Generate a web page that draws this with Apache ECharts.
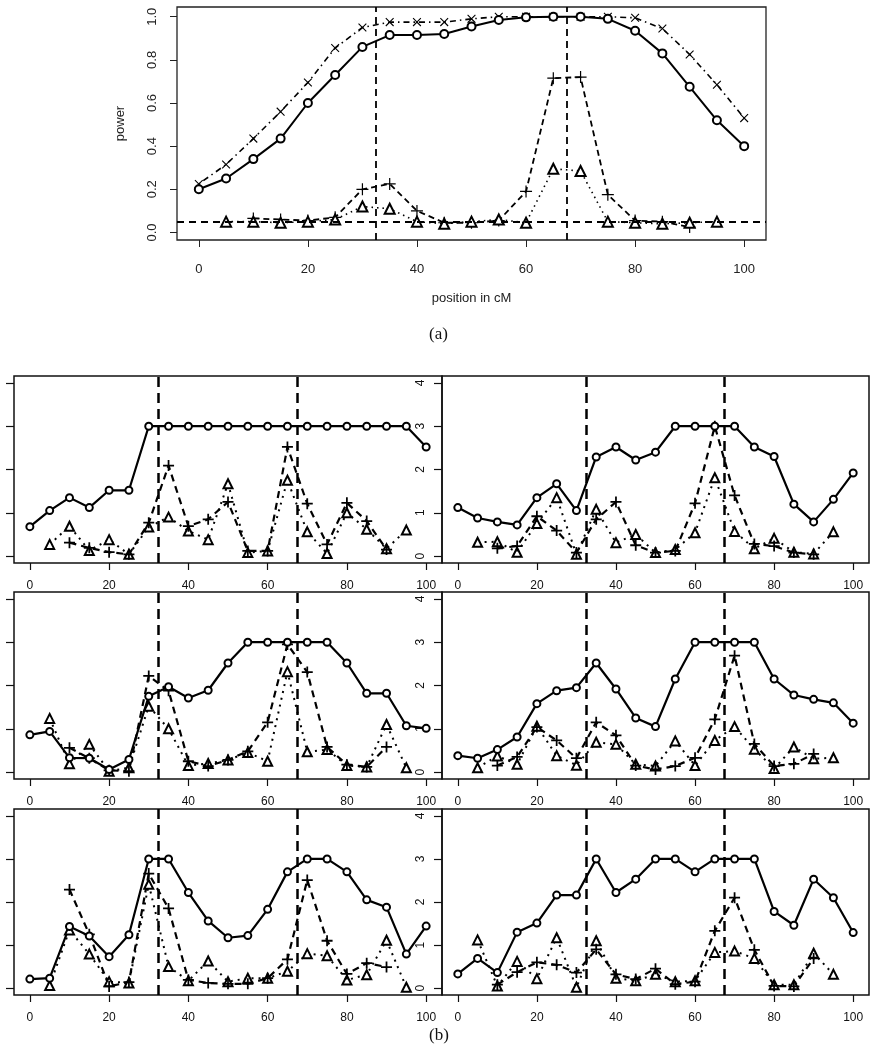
<!DOCTYPE html>
<html>
<head>
<meta charset="utf-8">
<script src="https://cdn.jsdelivr.net/npm/echarts@6/dist/echarts.min.js"></script>
<style>
html,body{margin:0;padding:0;background:#fff;}
#chart{width:879px;height:1050px;}
</style>
</head>
<body>
<div id="chart"></div>
<script>
// ---------- data ----------
const positions = [0,5,10,15,20,25,30,35,40,45,50,55,60,65,70,75,80,85,90,95,100];
const xTicks = [0,20,40,60,80,100];
const topYTicks = [0,0.2,0.4,0.6,0.8,1.0];
const panelYTicks = [0,1,2,3,4];
const qtlPositions = [32.5, 67.5];
const nullLevel = [0.05];

// (a) power curves
const topCircle = [0.20,0.25,0.34,0.435,0.60,0.73,0.86,0.915,0.915,0.92,0.955,0.985,0.997,1.0,1.0,0.99,0.935,0.83,0.675,0.52,0.40];
const topCross  = [0.225,0.315,0.435,0.56,0.695,0.855,0.95,0.975,0.975,0.975,0.99,1.0,1.0,1.0,1.0,1.0,0.995,0.945,0.825,0.685,0.53];
const topPlus   = [null,null,0.065,0.06,0.055,0.07,0.20,0.225,0.10,0.045,0.045,0.055,0.19,0.715,0.72,0.175,0.055,0.05,0.025,null,null];
const topTri    = [null,0.05,0.05,0.045,0.05,0.06,0.12,0.11,0.05,0.04,0.05,0.06,0.045,0.295,0.285,0.05,0.045,0.04,0.045,0.05,null];

// (b) six panels
const p1Circle = [0.68,1.05,1.35,1.12,1.52,1.52,3,3,3,3,3,3,3,3,3,3,3,3,3,3,2.52];
const p1Plus   = [null,null,0.31,0.19,0.09,0.04,0.77,2.09,0.69,0.85,1.25,0.12,0.12,2.52,1.21,0.27,1.23,0.81,0.15,null,null];
const p1Tri    = [null,0.27,0.69,0.13,0.38,0.04,0.67,0.90,0.58,0.38,1.67,0.08,0.12,1.75,0.56,0.06,1.0,0.62,0.17,0.60,null];

const p2Circle = [1.12,0.88,0.79,0.72,1.35,1.67,1.05,2.29,2.52,2.22,2.40,3,3,3,3,2.52,2.30,1.20,0.79,1.31,1.92];
const p2Plus   = [null,null,0.18,0.23,0.92,0.59,0.08,0.85,1.25,0.25,0.08,0.12,1.22,3.0,1.40,0.28,0.23,0.08,0.04,null,null];
const p2Tri    = [null,0.32,0.33,0.09,0.75,1.35,0.04,1.08,0.31,0.50,0.08,0.15,0.54,1.81,0.57,0.17,0.41,0.09,0.05,0.56,null];

const p3Circle = [0.86,0.94,0.33,0.32,0.06,0.29,1.75,1.97,1.71,1.89,2.52,3,3,3,3,3,2.52,1.82,1.82,1.07,1.01];
const p3Plus   = [null,null,0.56,0.32,0.04,0.02,2.22,1.88,0.25,0.14,0.28,0.48,1.15,2.95,2.31,0.58,0.17,0.12,0.58,null,null];
const p3Tri    = [null,1.24,0.19,0.64,0.02,0.10,1.52,1.0,0.15,0.20,0.28,0.45,0.25,2.32,0.47,0.52,0.15,0.12,1.10,0.10,null];

const p4Circle = [0.38,0.32,0.52,0.81,1.58,1.88,1.95,2.52,1.92,1.25,1.05,2.15,3,3,3,3,2.15,1.78,1.68,1.60,1.13];
const p4Plus   = [null,null,0.15,0.35,1.04,0.73,0.32,1.15,0.85,0.15,0.06,0.14,0.33,1.22,2.69,0.65,0.14,0.19,0.42,null,null];
const p4Tri    = [null,0.10,0.37,0.18,1.06,0.38,0.16,0.69,0.64,0.18,0.14,0.72,0.15,0.73,1.05,0.53,0.08,0.58,0.31,0.33,null];

const p5Circle = [0.21,0.23,1.43,1.21,0.73,1.24,3,3,2.22,1.56,1.17,1.22,1.83,2.70,3,3,2.70,2.05,1.88,0.79,1.44];
const p5Plus   = [null,null,2.29,1.25,0.04,0.14,2.66,1.85,0.19,0.12,0.10,0.10,0.23,0.67,2.51,1.10,0.33,0.58,0.49,null,null];
const p5Tri    = [null,0.06,1.35,0.79,0.15,0.12,2.41,0.50,0.17,0.63,0.15,0.23,0.23,0.39,0.80,0.75,0.19,0.31,1.11,0.02,null];

const p6Circle = [0.33,0.69,0.36,1.30,1.51,2.16,2.16,3,2.22,2.53,3,3,2.70,3,3,3,1.78,1.46,2.53,2.10,1.29];
const p6Plus   = [null,null,0.08,0.37,0.60,0.54,0.36,0.90,0.32,0.21,0.45,0.09,0.15,1.33,2.10,0.89,0.05,0.04,0.69,null,null];
const p6Tri    = [null,1.12,0.05,0.62,0.22,1.17,0.02,1.10,0.23,0.17,0.32,0.15,0.17,0.83,0.86,0.69,0.08,0.08,0.81,0.32,null];

const panels = [
  {c:p1Circle, p:p1Plus, t:p1Tri},
  {c:p2Circle, p:p2Plus, t:p2Tri},
  {c:p3Circle, p:p3Plus, t:p3Tri},
  {c:p4Circle, p:p4Plus, t:p4Tri},
  {c:p5Circle, p:p5Plus, t:p5Tri},
  {c:p6Circle, p:p6Plus, t:p6Tri}
];

// ---------- helpers ----------
function pts(arr){ return positions.map((x,i)=>[x,arr[i]]).filter(p=>p[1]!=null); }
const FONT = '"Liberation Sans", Arial, Helvetica, sans-serif';
const PLUS_THIN = 'path://M4.5,0H5.5V4.5H10V5.5H5.5V10H4.5V5.5H0V4.5H4.5Z';
const PLUS_THICK = 'path://M4.2,0H5.8V4.2H10V5.8H5.8V10H4.2V5.8H0V4.2H4.2Z';

const grids = [], xAxes = [], yAxes = [], series = [];

// top grid
grids.push({left:177, top:7, width:589, height:233, show:true, borderColor:'#222', borderWidth:1.3, backgroundColor:'transparent'});
xAxes.push({type:'value', gridIndex:0, min:-4, max:104,
  axisLine:{show:false, onZero:false}, splitLine:{show:false},
  axisTick:{show:true, length:7, lineStyle:{color:'#222', width:1}, customValues:xTicks},
  axisLabel:{show:true, margin:23, fontSize:13, color:'#222', fontFamily:FONT, customValues:xTicks},
  name:'position in cM', nameLocation:'middle', nameGap:52,
  nameTextStyle:{fontSize:13, color:'#222', fontFamily:FONT}});
yAxes.push({type:'value', gridIndex:0, min:-0.035, max:1.045,
  axisLine:{show:false, onZero:false}, splitLine:{show:false},
  axisTick:{show:true, length:7, lineStyle:{color:'#222', width:1}, customValues:topYTicks},
  axisLabel:{show:true, rotate:90, margin:18, fontSize:13, color:'#222', fontFamily:FONT,
    customValues:topYTicks, formatter:v=>Number(v).toFixed(1)},
  name:'power', nameLocation:'middle', nameGap:50,
  nameTextStyle:{fontSize:13, color:'#222', fontFamily:FONT}});

const refLine = (vals, key, width, dash) => ({
  silent:true, symbol:['none','none'], label:{show:false}, emphasis:{disabled:true},
  lineStyle:{color:'#000', width:width, type:dash},
  data: vals.map(v=>({[key]:v}))
});

series.push({type:'line', xAxisIndex:0, yAxisIndex:0, data:pts(topCross), animation:false,
  symbol:PLUS_THIN, symbolRotate:45, symbolSize:11, showAllSymbol:true,
  lineStyle:{color:'#000', width:1.6, type:[1.5,4,6,4]}, itemStyle:{color:'#000', borderWidth:0}});
series.push({type:'line', xAxisIndex:0, yAxisIndex:0, data:pts(topPlus), animation:false,
  symbol:PLUS_THIN, symbolSize:12, showAllSymbol:true,
  lineStyle:{color:'#000', width:1.8, type:[6,4]}, itemStyle:{color:'#000', borderWidth:0}});
series.push({type:'line', xAxisIndex:0, yAxisIndex:0, data:pts(topTri), animation:false,
  symbol:'emptyTriangle', symbolSize:10, showAllSymbol:true,
  lineStyle:{color:'#000', width:1.6, type:[1.5,4]}, itemStyle:{color:'#000', borderWidth:1.2},
  markLine: refLine(qtlPositions,'xAxis',1.8,[7,5])});
series.push({type:'line', xAxisIndex:0, yAxisIndex:0, data:pts(topCircle), animation:false,
  symbol:'emptyCircle', symbolSize:8, showAllSymbol:true,
  lineStyle:{color:'#000', width:2}, itemStyle:{color:'#000', borderWidth:1.8},
  markLine: refLine(nullLevel,'yAxis',1.8,[7,5])});

// panel grids
const rowTops = [376, 592, 809];
const rowHeights = [187, 187, 186];
const colLefts = [14, 442];
const colWidths = [428, 427];

panels.forEach((pn, k) => {
  const r = Math.floor(k/2), c = k%2;
  const gi = k+1;
  grids.push({left:colLefts[c], top:rowTops[r], width:colWidths[c], height:rowHeights[r],
    show:true, borderColor:'#111', borderWidth:1.5, backgroundColor:'transparent'});
  xAxes.push({type:'value', gridIndex:gi, min:-4, max:104,
    axisLine:{show:false, onZero:false}, splitLine:{show:false},
    axisTick:{show:true, length:7, lineStyle:{color:'#111', width:1.2}, customValues:xTicks},
    axisLabel:{show:true, margin:17, fontSize:12, color:'#111', fontFamily:FONT, customValues:xTicks}});
  yAxes.push({type:'value', gridIndex:gi, min:-0.16, max:4.16,
    axisLine:{show:false, onZero:false}, splitLine:{show:false},
    axisTick:{show:true, length:8, lineStyle:{color:'#111', width:1.2}, customValues:panelYTicks},
    axisLabel:{show:c===1, rotate:90, margin:15, fontSize:12, color:'#111', fontFamily:FONT, customValues:panelYTicks}});
  series.push({type:'line', xAxisIndex:gi, yAxisIndex:gi, data:pts(pn.t), animation:false,
    symbol:'emptyTriangle', symbolSize:9, showAllSymbol:true,
    lineStyle:{color:'#000', width:2, type:[2,5]}, itemStyle:{color:'#000', borderWidth:1.3},
    markLine: refLine(qtlPositions,'xAxis',2.5,[10,6])});
  series.push({type:'line', xAxisIndex:gi, yAxisIndex:gi, data:pts(pn.p), animation:false,
    symbol:PLUS_THICK, symbolSize:11, showAllSymbol:true,
    lineStyle:{color:'#000', width:2.2, type:[7,5]}, itemStyle:{color:'#000', borderWidth:0}});
  series.push({type:'line', xAxisIndex:gi, yAxisIndex:gi, data:pts(pn.c), animation:false,
    symbol:'emptyCircle', symbolSize:7, showAllSymbol:true,
    lineStyle:{color:'#000', width:2.2}, itemStyle:{color:'#000', borderWidth:2}});
});

const chart = echarts.init(document.getElementById('chart'), null, {renderer:'canvas'});
chart.setOption({
  animation:false,
  backgroundColor:'#fff',
  grid:grids, xAxis:xAxes, yAxis:yAxes, series:series,
  graphic:[
    {type:'text', left:429, top:326, style:{text:'(a)', font:'17px "Liberation Serif", "DejaVu Serif", serif', fill:'#111'}},
    {type:'text', left:429, top:1027, style:{text:'(b)', font:'17px "Liberation Serif", "DejaVu Serif", serif', fill:'#111'}}
  ]
});
</script>
</body>
</html>
